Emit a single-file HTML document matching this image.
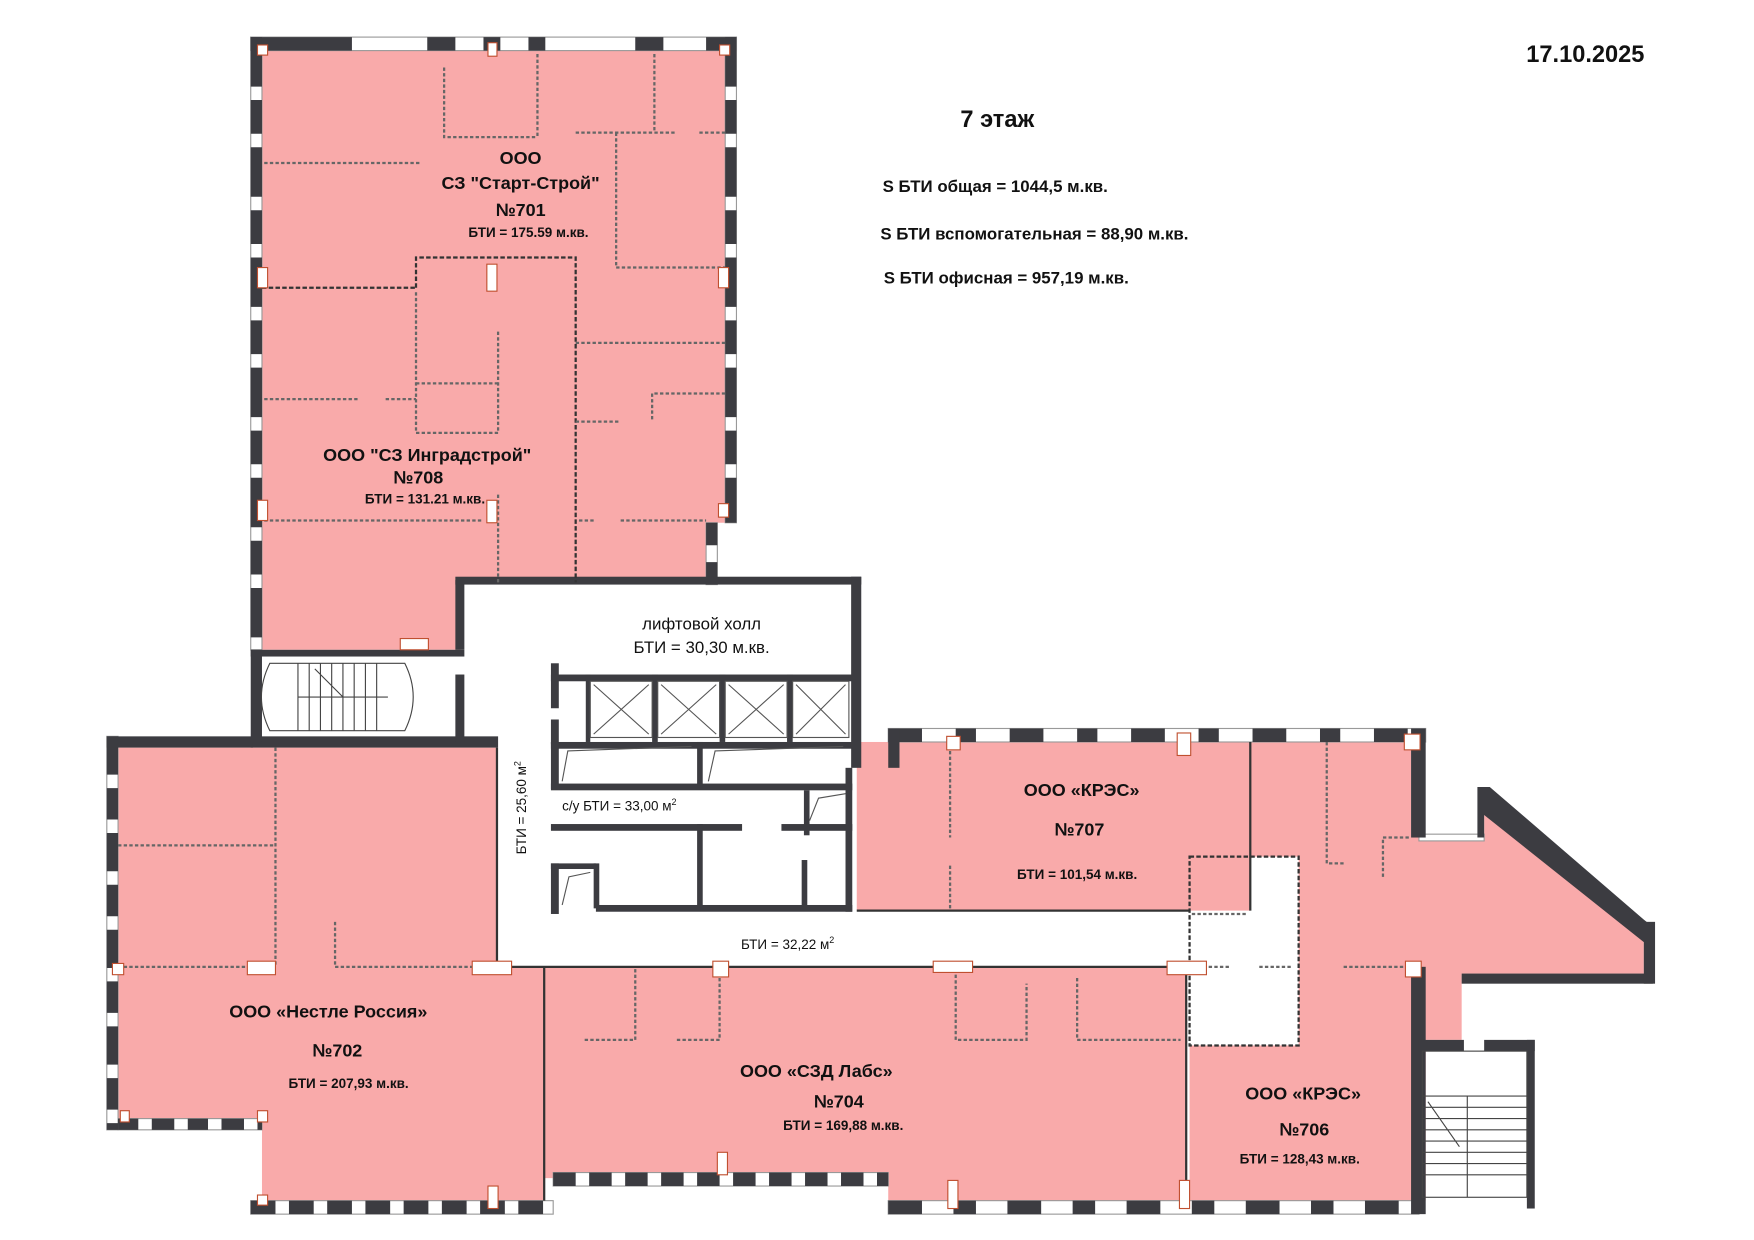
<!DOCTYPE html>
<html><head><meta charset="utf-8"><style>
html,body{margin:0;padding:0;background:#fff}
svg{display:block}
text{font-family:"Liberation Sans",sans-serif;fill:#111}
.b{font-weight:bold}
</style></head><body>
<svg width="1754" height="1240" viewBox="0 0 1560 1103" preserveAspectRatio="none" xmlns="http://www.w3.org/2000/svg">
<rect width="1560" height="1103" fill="#fff"/>
<g fill="#f9aaaa">
<polygon points="233,45 645,45 645,465 630,465 630,518 410,518 410,578 233,578"/>
<polygon points="105,665 442,665 442,860 484,860 484,1068 233,1068 233,1000 105,1000"/>
<polygon points="484,860 1055,860 1055,1068 790,1068 790,1048 484,1048"/>
<rect x="762" y="660" width="350" height="150"/>
<polygon points="1112,660 1255,660 1255,745 1320,745 1320,712 1462,820 1462,866 1300,866 1300,925 1268,925 1268,1068 1058,1068 1058,930 1155,930 1155,762 1112,762"/>
</g>
<g fill="#fff" stroke="#999" stroke-width="1">
<rect x="223" y="33" width="432" height="12"/>
<rect x="223" y="33" width="10" height="545"/>
<rect x="645" y="33" width="10" height="432"/>
<rect x="628" y="465" width="10" height="55"/>
<rect x="95" y="655" width="10" height="350"/>
<rect x="105" y="995" width="128" height="10"/>
<rect x="223" y="1068" width="269" height="12"/>
<rect x="492" y="1043" width="298" height="12"/>
<rect x="790" y="1068" width="472" height="12"/>
<rect x="790" y="648" width="478" height="12"/>
<rect x="1262" y="742" width="58" height="6"/>
</g>
<g stroke="#3c3c41" fill="none">
<line x1="223" y1="39" x2="655" y2="39" stroke-width="12" stroke-dasharray="90 67 25 25 15 25 15 80 25 38 40"/>
<line x1="228" y1="33" x2="228" y2="578" stroke-width="10" stroke-dasharray="44 12 30 12"/>
<line x1="650" y1="33" x2="650" y2="465" stroke-width="10" stroke-dasharray="44 12 30 12"/>
<line x1="633" y1="465" x2="633" y2="520" stroke-width="10" stroke-dasharray="20 15 20"/>
<line x1="100" y1="655" x2="100" y2="1005" stroke-width="10" stroke-dasharray="34 12 28 12"/>
<line x1="105" y1="1000" x2="233" y2="1000" stroke-width="10" stroke-dasharray="18 12 20 12"/>
<line x1="223" y1="1074" x2="492" y2="1074" stroke-width="12" stroke-dasharray="22 12 22 12"/>
<line x1="492" y1="1049" x2="790" y2="1049" stroke-width="12" stroke-dasharray="20 12 20 12"/>
<line x1="790" y1="1074" x2="1262" y2="1074" stroke-width="12" stroke-dasharray="30 28 20 28"/>
<line x1="790" y1="654" x2="1268" y2="654" stroke-width="12" stroke-dasharray="30 30 18 30"/>
</g>
<g fill="#3c3c41">
<rect x="223" y="578" width="190" height="6"/>
<rect x="223" y="655" width="220" height="10"/>
<rect x="95" y="655" width="130" height="10"/>
<rect x="223" y="578" width="10" height="82"/>
<rect x="405" y="516" width="8" height="62"/>
<rect x="405" y="600" width="8" height="60"/>
<rect x="405" y="513" width="361" height="7"/>
<rect x="757" y="513" width="9" height="170"/>
<rect x="490" y="590" width="7" height="40"/>
<rect x="490" y="640" width="7" height="22"/>
<rect x="490" y="600" width="268" height="6"/>
<rect x="521" y="600" width="4" height="60"/>
<rect x="580" y="600" width="5" height="60"/>
<rect x="640" y="600" width="5" height="60"/>
<rect x="700" y="600" width="5" height="60"/>
<rect x="490" y="660" width="268" height="6"/>
<rect x="490" y="697" width="268" height="6"/>
<rect x="490" y="660" width="7" height="42"/>
<rect x="620" y="660" width="5" height="42"/>
<rect x="715" y="703" width="5" height="40"/>
<rect x="490" y="733" width="170" height="6"/>
<rect x="695" y="733" width="63" height="6"/>
<rect x="620" y="733" width="5" height="75"/>
<rect x="490" y="768" width="40" height="5"/>
<rect x="528" y="768" width="5" height="40"/>
<rect x="490" y="768" width="7" height="45"/>
<rect x="530" y="805" width="228" height="6"/>
<rect x="713" y="765" width="5" height="42"/>
<rect x="752" y="683" width="6" height="128"/>
<rect x="1255" y="648" width="13" height="97"/>
<rect x="1255" y="860" width="13" height="220"/>
<rect x="1300" y="866" width="170" height="9"/>
<rect x="1462" y="820" width="10" height="55"/>
<rect x="790" y="648" width="10" height="35"/>
<rect x="1262" y="925" width="40" height="10"/>
<rect x="1320" y="925" width="45" height="10"/>
<rect x="1358" y="925" width="7" height="150"/>
</g>
<polygon points="1314,700 1325,700 1462,818 1472,826 1462,838 1320,725 1320,745 1314,745" fill="#3c3c41"/>
<g stroke="#333" stroke-width="2" fill="none">
<line x1="442" y1="665" x2="442" y2="860"/>
<line x1="442" y1="860" x2="1058" y2="860"/>
<line x1="762" y1="810" x2="1058" y2="810"/>
<line x1="1055" y1="860" x2="1055" y2="1068"/>
<line x1="484" y1="860" x2="484" y2="1068"/>
<line x1="1112" y1="660" x2="1112" y2="810"/>
<line x1="233" y1="256" x2="370" y2="256" stroke-dasharray="4 2"/>
<polyline points="370,256 370,229 512,229 512,518" stroke-dasharray="4 2"/>
<rect x="1058" y="762" width="97" height="168" stroke-dasharray="4 2"/>
</g>
<g stroke="#666" stroke-width="2" fill="none" stroke-dasharray="3 2">
<polyline points="395,60 395,122 478,122"/><line x1="478" y1="48" x2="478" y2="122"/>
<line x1="512" y1="118" x2="600" y2="118"/><line x1="622" y1="118" x2="645" y2="118"/>
<line x1="582" y1="48" x2="582" y2="118"/><line x1="548" y1="118" x2="548" y2="238"/>
<line x1="548" y1="238" x2="645" y2="238"/>
<line x1="235" y1="145" x2="375" y2="145"/>
<line x1="370" y1="260" x2="370" y2="385"/><polyline points="370,385 443,385 443,295"/>
<line x1="370" y1="341" x2="443" y2="341"/>
<line x1="235" y1="355" x2="318" y2="355"/><line x1="343" y1="355" x2="370" y2="355"/>
<line x1="512" y1="305" x2="645" y2="305"/>
<polyline points="645,350 580,350 580,375"/><line x1="512" y1="375" x2="552" y2="375"/>
<line x1="235" y1="463" x2="430" y2="463"/><line x1="443" y1="440" x2="443" y2="520"/>
<line x1="515" y1="463" x2="528" y2="463"/><line x1="552" y1="463" x2="628" y2="463"/>
<line x1="245" y1="665" x2="245" y2="860"/>
<line x1="105" y1="752" x2="245" y2="752"/>
<polyline points="298,820 298,860 430,860"/>
<line x1="105" y1="860" x2="225" y2="860"/>
<polyline points="565,862 565,925 520,925"/><polyline points="640,870 640,925 600,925"/>
<polyline points="850,862 850,925 913,925 913,875"/><polyline points="958,870 958,925 1050,925"/>
<line x1="845" y1="668" x2="845" y2="745"/><line x1="845" y1="770" x2="845" y2="810"/>
<polyline points="1180,660 1180,768 1195,768"/><polyline points="1230,780 1230,745 1255,745"/>
<line x1="1060" y1="813" x2="1110" y2="813"/><line x1="1060" y1="860" x2="1095" y2="860"/>
<line x1="1120" y1="860" x2="1150" y2="860"/><line x1="1195" y1="860" x2="1255" y2="860"/>
</g>
<g fill="#fff" stroke="#c05030" stroke-width="1">
<rect x="229" y="40" width="9" height="9"/><rect x="640" y="40" width="9" height="9"/>
<rect x="434" y="38" width="8" height="12"/>
<rect x="229" y="238" width="9" height="18"/><rect x="639" y="238" width="9" height="18"/>
<rect x="433" y="235" width="9" height="24"/><rect x="433" y="445" width="9" height="20"/>
<rect x="229" y="445" width="9" height="18"/><rect x="639" y="448" width="9" height="12"/>
<rect x="100" y="857" width="10" height="10"/><rect x="220" y="855" width="25" height="12"/>
<rect x="420" y="855" width="35" height="12"/><rect x="830" y="855" width="35" height="10"/>
<rect x="1038" y="855" width="35" height="12"/><rect x="634" y="855" width="14" height="14"/>
<rect x="842" y="655" width="12" height="12"/><rect x="1047" y="652" width="12" height="20"/>
<rect x="1249" y="653" width="14" height="14"/><rect x="1250" y="855" width="14" height="14"/>
<rect x="107" y="988" width="8" height="10"/><rect x="229" y="988" width="9" height="10"/>
<rect x="229" y="1063" width="9" height="9"/><rect x="434" y="1055" width="9" height="20"/>
<rect x="638" y="1025" width="9" height="20"/><rect x="843" y="1050" width="9" height="25"/>
<rect x="1049" y="1050" width="9" height="25"/><rect x="356" y="568" width="25" height="10"/>
</g>
<g stroke="#555" stroke-width="1" fill="#fff">
<rect x="525" y="606" width="55" height="50"/><rect x="585" y="606" width="55" height="50"/>
<rect x="645" y="606" width="55" height="50"/><rect x="705" y="606" width="50" height="50"/>
<path d="M528,609 L577,653 M577,609 L528,653 M588,609 L637,653 M637,609 L588,653 M648,609 L697,653 M697,609 L648,653 M708,609 L752,653 M752,609 L708,653" fill="none"/>
<path d="M500,695 L505,668 L615,664 M630,695 L636,668 L750,664 M720,730 L728,710 L752,706 M500,805 L506,780 L525,776" fill="none"/>
</g>
<g stroke="#444" stroke-width="1" fill="none">
<path d="M240,590 L360,590 Q375,620 360,650 L240,650 Q225,620 240,590 Z"/>
<path d="M265,590 v60 M275,590 v60 M285,590 v60 M295,590 v60 M305,590 v60 M315,590 v60 M325,590 v60 M335,590 v60 M265,620 h80 M280,595 L305,620"/>
<rect x="1265" y="935" width="93" height="130"/>
<path d="M1265,975 h93 M1265,985 h93 M1265,995 h93 M1265,1005 h93 M1265,1015 h93 M1265,1025 h93 M1265,1035 h93 M1265,1045 h93 M1305,975 v90 M1270,980 L1298,1020"/>
</g>
<text x="1410" y="55" class="b" font-size="21" text-anchor="middle">17.10.2025</text>
<text x="887" y="113" class="b" font-size="21" text-anchor="middle">7 этаж</text>
<text x="785" y="171" class="b" font-size="15">S БТИ общая = 1044,5 м.кв.</text>
<text x="783" y="213" class="b" font-size="15">S БТИ вспомогательная = 88,90 м.кв.</text>
<text x="786" y="252" class="b" font-size="15">S БТИ офисная = 957,19 м.кв.</text>
<g class="b" text-anchor="middle">
<text x="463" y="146" font-size="16" class="b">ООО</text>
<text x="463" y="168" font-size="16" class="b">СЗ "Старт-Строй"</text>
<text x="463" y="192" font-size="16" class="b">№701</text>
<text x="470" y="211" font-size="12" class="b">БТИ = 175.59 м.кв.</text>
<text x="380" y="410" font-size="16" class="b">ООО "СЗ Инградстрой"</text>
<text x="372" y="430" font-size="16" class="b">№708</text>
<text x="378" y="448" font-size="12" class="b">БТИ = 131.21 м.кв.</text>
<text x="962" y="708" font-size="16" class="b">ООО «КРЭС»</text>
<text x="960" y="743" font-size="16" class="b">№707</text>
<text x="958" y="782" font-size="12" class="b">БТИ = 101,54 м.кв.</text>
<text x="292" y="905" font-size="16" class="b">ООО «Нестле Россия»</text>
<text x="300" y="940" font-size="16" class="b">№702</text>
<text x="310" y="968" font-size="12" class="b">БТИ = 207,93 м.кв.</text>
<text x="726" y="958" font-size="16" class="b">ООО «СЗД Лабс»</text>
<text x="746" y="985" font-size="16" class="b">№704</text>
<text x="750" y="1005" font-size="12" class="b">БТИ = 169,88 м.кв.</text>
<text x="1159" y="978" font-size="16" class="b">ООО «КРЭС»</text>
<text x="1160" y="1010" font-size="16" class="b">№706</text>
<text x="1156" y="1035" font-size="12" class="b">БТИ = 128,43 м.кв.</text>
</g>
<g text-anchor="middle" font-size="15">
<text x="624" y="560">лифтовой холл</text>
<text x="624" y="581">БТИ = 30,30 м.кв.</text>
</g>
<text x="500" y="721" font-size="12">с/у БТИ = 33,00 м<tspan font-size="8" dy="-5">2</tspan></text>
<text x="659" y="844" font-size="12">БТИ = 32,22 м<tspan font-size="8" dy="-5">2</tspan></text>
<text transform="translate(468,760) rotate(-90)" font-size="12">БТИ = 25,60 м<tspan font-size="8" dy="-5">2</tspan></text>
</svg>
</body></html>
